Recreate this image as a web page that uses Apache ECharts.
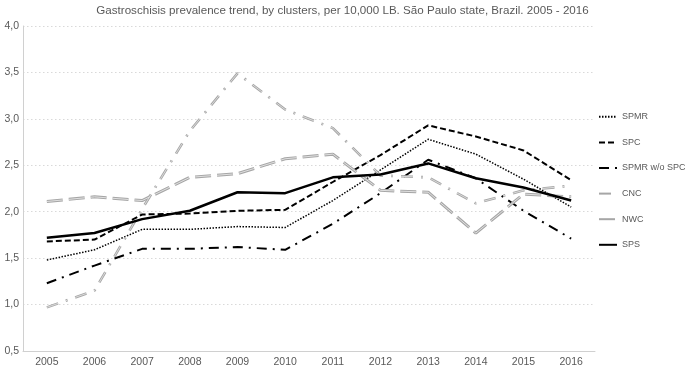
<!DOCTYPE html>
<html>
<head>
<meta charset="utf-8">
<script src="https://cdn.jsdelivr.net/npm/echarts@6/dist/echarts.min.js"></script>
<style>html,body{margin:0;padding:0;background:#fff}#c{width:685px;height:369px}</style>
</head>
<body>
<div id="c"></div>
<script>
var years = ['2005','2006','2007','2008','2009','2010','2011','2012','2013','2014','2015','2016'];
var spmr    = [1.48, 1.59, 1.81, 1.81, 1.84, 1.83, 2.12, 2.45, 2.78, 2.62, 2.35, 2.05];
var spc     = [1.68, 1.70, 1.97, 1.98, 2.01, 2.02, 2.32, 2.61, 2.93, 2.81, 2.66, 2.34];
var spmrWo  = [1.23, 1.42, 1.60, 1.60, 1.62, 1.59, 1.87, 2.20, 2.56, 2.36, 2.01, 1.71];
var cnc     = [0.97, 1.15, 2.03, 2.87, 3.49, 3.10, 2.90, 2.39, 2.37, 2.09, 2.23, 2.28];
var nwc     = [2.11, 2.16, 2.12, 2.37, 2.41, 2.57, 2.62, 2.23, 2.21, 1.77, 2.19, 2.16];
var sps     = [1.72, 1.77, 1.92, 2.01, 2.21, 2.20, 2.37, 2.40, 2.52, 2.36, 2.26, 2.12];
var yTicks  = {min: 0.5, max: 4.0, interval: 0.5};
var legendNames = ['SPMR','SPC','SPMR w/o SPC','CNC','NWC','SPS'];

var FONT = 'Liberation Sans';
var TXT = '#595959';
var GRAY = '#a6a6a6';

function ser(name, data, color, width, type, z) {
  return {
    name: name, type: 'line', data: data, symbol: 'none', smooth: false, z: z || 2,
    lineStyle: {color: color, width: width, type: type, cap: 'butt'},
    itemStyle: {color: color},
    emphasis: {disabled: true}
  };
}

var chart = echarts.init(document.getElementById('c'), null, {renderer: 'canvas'});
chart.setOption({
  animation: false,
  title: {
    text: 'Gastroschisis prevalence trend, by clusters, per 10,000 LB. São Paulo state, Brazil. 2005 - 2016',
    left: 'center', top: 0,
    textStyle: {fontFamily: FONT, fontSize: 11.6, fontWeight: 'normal', color: TXT}
  },
  legend: {
    orient: 'vertical', left: 598, top: 112, padding: 0,
    itemWidth: 18, itemHeight: 12, itemGap: 16,
    itemStyle: {opacity: 0},
    textStyle: {fontFamily: FONT, fontSize: 9, color: TXT},
    data: legendNames
  },
  grid: {left: 23, right: 90, top: 26, bottom: 18, containLabel: false},
  xAxis: {
    type: 'category', data: years, boundaryGap: true,
    axisLine: {show: true, lineStyle: {color: '#d0d0d0', width: 1}},
    axisTick: {show: false},
    axisLabel: {fontFamily: FONT, fontSize: 10.5, color: TXT, margin: 6}
  },
  yAxis: {
    type: 'value', min: yTicks.min, max: yTicks.max, interval: yTicks.interval,
    axisLine: {show: true, lineStyle: {color: '#d0d0d0', width: 1}},
    axisTick: {show: false},
    splitLine: {show: true, lineStyle: {color: '#d9d9d9', type: [1.5,2.5], width: 1}},
    axisLabel: {fontFamily: FONT, fontSize: 10.5, color: TXT, margin: 4,
      formatter: function(v){ return v.toFixed(1).replace('.', ','); }}
  },
  series: [
    ser('SPMR', spmr, '#000', 1.5, [1.5,1.5]),
    ser('SPC', spc, '#000', 2, [6,3]),
    ser('SPMR w/o SPC', spmrWo, '#000', 2, [10,6,2,6]),
    ser('CNC', cnc, GRAY, 2.6, [12,8,2,8]),
    ser('CNC ', cnc, '#e6e6e6', 0.8, [12,8,2,8], 3),
    ser('NWC', nwc, GRAY, 3, [16,6]),
    ser('NWC ', nwc, '#e6e6e6', 0.9, [16,6], 3),
    ser('SPS', sps, '#000', 2.5, 'solid', 4)
  ]
});
</script>
</body>
</html>
